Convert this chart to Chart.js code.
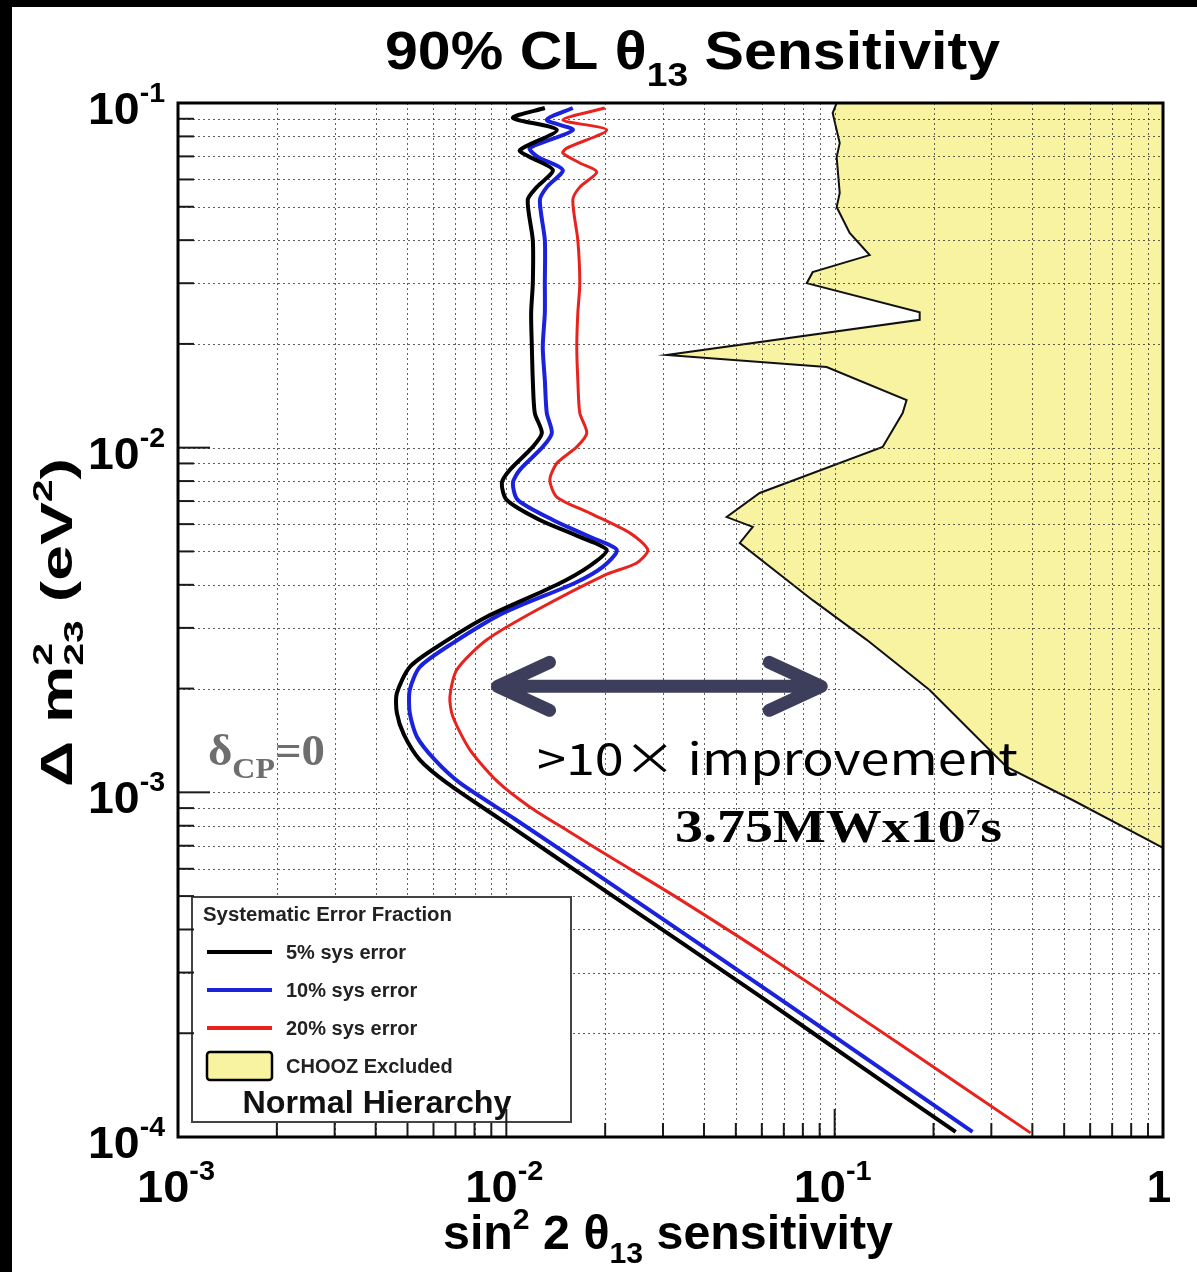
<!DOCTYPE html>
<html>
<head>
<meta charset="utf-8">
<title>90% CL theta13 Sensitivity</title>
<script src="https://cdn.jsdelivr.net/npm/chart.js@4.4.0/dist/chart.umd.min.js"></script>
<style>
  html, body { margin: 0; padding: 0; background: #fff; }
  #wrap { width: 1197px; height: 1272px; }
</style>
</head>
<body>
<div id="wrap"><canvas id="sensitivity" width="1197" height="1272"></canvas></div>
<script>
// 5% sys error (black)
const sin2Sys5 = [0.0131, 0.01047, 0.01425, 0.01099, 0.01179, 0.01386, 0.01238, 0.01162, 0.01204, 0.01204,
  0.0119, 0.01196, 0.01204, 0.01221, 0.01283, 0.01204, 0.01025, 0.00969, 0.01003, 0.01265,
  0.01674, 0.02022, 0.01796, 0.01425, 0.00872, 0.00614, 0.00508, 0.00464, 0.00464, 0.00488,
  0.00545, 0.00659, 0.00955, 0.01926, 0.0634, 0.1192, 0.2336];
const dm2Sys5 = [0.0967, 0.0905, 0.0835, 0.0730, 0.0697, 0.0639, 0.0570, 0.0523, 0.0400, 0.0300,
  0.0246, 0.0196, 0.0157, 0.0126, 0.01103, 0.01005, 0.00862, 0.00790, 0.00705, 0.00617,
  0.00551, 0.00505, 0.00454, 0.00400, 0.00323, 0.00264, 0.00231, 0.00194, 0.00170, 0.001467,
  0.001242, 0.001065, 0.000837, 0.000531, 0.000245, 0.000161, 0.0001035];

// 10% sys error (blue)
const sin2Sys10 = [0.01594, 0.01328, 0.01594, 0.01179, 0.01247, 0.01486, 0.01328, 0.01265, 0.01310, 0.01310,
  0.01310, 0.01291, 0.01310, 0.01328, 0.01376, 0.01291, 0.01099, 0.01047, 0.01084, 0.01386,
  0.01796, 0.02170, 0.01967, 0.01617, 0.00976, 0.00687, 0.00545, 0.00508, 0.00508, 0.00534,
  0.00606, 0.00722, 0.01061, 0.02154, 0.0709, 0.2630];
const dm2Sys10 = [0.0967, 0.0893, 0.0835, 0.0740, 0.0697, 0.0639, 0.0570, 0.0523, 0.0400, 0.0300,
  0.0246, 0.0196, 0.0157, 0.0126, 0.01103, 0.01005, 0.00862, 0.00790, 0.00705, 0.00617,
  0.00551, 0.00505, 0.00451, 0.00405, 0.00331, 0.00271, 0.00231, 0.00198, 0.00170, 0.00145,
  0.001242, 0.001065, 0.000837, 0.000531, 0.000245, 0.0001035];

// 20% sys error (red)
const sin2Sys20 = [0.01995, 0.01486, 0.02022, 0.01528, 0.01486, 0.01674, 0.01886, 0.01674, 0.01594, 0.01651,
  0.01674, 0.01651, 0.01639, 0.01651, 0.01674, 0.01758, 0.01639, 0.01425, 0.01357, 0.01425,
  0.01796, 0.02377, 0.02697, 0.02496, 0.01995, 0.01238, 0.00872, 0.00707, 0.00673, 0.00687,
  0.00774, 0.00935, 0.01179, 0.01561, 0.02067, 0.0321, 0.0634, 0.1577, 0.395];
const dm2Sys20 = [0.0967, 0.0893, 0.0835, 0.0740, 0.0716, 0.0670, 0.0631, 0.0570, 0.0523, 0.0400,
  0.0300, 0.0246, 0.0196, 0.0157, 0.0126, 0.01103, 0.01005, 0.00901, 0.00806, 0.00719,
  0.00646, 0.00566, 0.00505, 0.00463, 0.00427, 0.00338, 0.00277, 0.00227, 0.00189, 0.00166,
  0.00133, 0.001079, 0.000907, 0.000767, 0.000650, 0.000504, 0.000333, 0.000186, 0.0001028];

// CHOOZ excluded region (closed outline, filled)
const sin2Chooz = [0.1014, 0.0986, 0.1036, 0.1014, 0.1036, 0.1014, 0.1111, 0.1278, 0.0857, 0.0822,
  0.1815, 0.1815, 0.0308, 0.0945, 0.1656, 0.1611, 0.1400, 0.0591, 0.0469, 0.0563,
  0.0514, 0.0857, 0.1252, 0.1946, 0.334, 0.530, 1.0, 1.0];
const dm2Chooz = [0.1, 0.0935, 0.0765, 0.0697, 0.0548, 0.0499, 0.0420, 0.0362, 0.0323, 0.0300,
  0.0247, 0.0235, 0.01858, 0.01714, 0.01375, 0.0126, 0.01005, 0.00739, 0.00629, 0.00589,
  0.00529, 0.00361, 0.00277, 0.00198, 0.001185, 0.000950, 0.000690, 0.1];

const seriesLabels = ['5% sys error', '10% sys error', '20% sys error', 'CHOOZ Excluded'];
const xDecades = [-3, -2, -1, 0];
const yDecades = [-4, -3, -2, -1];
const xTickLabels = [['10', '-3'], ['10', '-2'], ['10', '-1'], ['1', '']];
const yTickLabels = [['10', '-4'], ['10', '-3'], ['10', '-2'], ['10', '-1']];

// arrow "> 10x improvement"
const arrowFrom = 0.0094;
const arrowTo = 0.091;
const arrowLevel = 0.00203;

const SANS = '"Liberation Sans", Arial, Helvetica, sans-serif';
const SERIF = '"Liberation Serif", "Times New Roman", serif';

function pts(xs, ys) {
    return xs.map((v, i) => ({ x: v, y: ys[i] }));
}

function runsWidth(ctx, runs) {
    let w = 0;
    for (const r of runs) {
        ctx.font = r.font;
        let rw = ctx.measureText(r.text).width;
        if (r.stack) rw = Math.max(rw, ctx.measureText(r.stack.text).width);
        w += rw;
    }
    return w;
}

// draws pieces of text (for super/subscripts), optionally squeezed to a given width
function drawRuns(ctx, runs, x, y, opt) {
    opt = opt || {};
    const natural = runsWidth(ctx, runs);
    const sx = opt.width ? opt.width / natural : 1;
    const w = natural * sx;
    let x0 = x;
    if (opt.align === 'center') x0 = x - w / 2;
    else if (opt.align === 'right') x0 = x - w;
    ctx.save();
    ctx.translate(x0, y);
    if (opt.rotate) ctx.rotate(opt.rotate);
    ctx.scale(sx, 1);
    ctx.textAlign = 'left';
    ctx.textBaseline = 'alphabetic';
    let cx = 0;
    for (const r of runs) {
        ctx.font = r.font;
        ctx.fillStyle = r.color || opt.color || '#000';
        ctx.fillText(r.text, cx, r.dy || 0);
        let rw = ctx.measureText(r.text).width;
        if (r.stack) {
            ctx.fillText(r.stack.text, cx, r.stack.dy);
            rw = Math.max(rw, ctx.measureText(r.stack.text).width);
        }
        cx += rw;
    }
    ctx.restore();
}

function decadeSteps(decades) {
    const out = [];
    for (let i = 0; i < decades.length - 1; i++) {
        for (let k = 1; k < 10; k++) out.push({ v: k * Math.pow(10, decades[i]), major: k === 1 });
    }
    out.push({ v: Math.pow(10, decades[decades.length - 1]), major: true });
    return out;
}

function drawGrid(chart) {
    const { ctx, chartArea: a, scales: { x, y } } = chart;
    ctx.save();
    ctx.beginPath();
    ctx.rect(a.left, a.top, a.right - a.left, a.bottom - a.top);
    ctx.clip();
    ctx.strokeStyle = 'rgba(55,55,55,0.8)';
    ctx.lineWidth = 1;
    ctx.setLineDash([2, 3]);
    for (const s of decadeSteps(xDecades)) {
        const px = Math.round(x.getPixelForValue(s.v)) + 0.5;
        ctx.beginPath(); ctx.moveTo(px, a.top); ctx.lineTo(px, a.bottom); ctx.stroke();
    }
    for (const s of decadeSteps(yDecades)) {
        const py = Math.round(y.getPixelForValue(s.v)) + 0.5;
        ctx.beginPath(); ctx.moveTo(a.left, py); ctx.lineTo(a.right, py); ctx.stroke();
    }
    ctx.restore();
}

function drawArrow(chart) {
    const { ctx, scales: { x, y } } = chart;
    const xl = x.getPixelForValue(arrowFrom);
    const xr = x.getPixelForValue(arrowTo);
    const yy = y.getPixelForValue(arrowLevel);
    ctx.save();
    ctx.strokeStyle = '#3c3e5c';
    ctx.lineWidth = 13;
    ctx.lineCap = 'round';
    ctx.lineJoin = 'round';
    ctx.beginPath();
    ctx.moveTo(xl + 4, yy); ctx.lineTo(xr - 4, yy);
    ctx.moveTo(xl + 52, yy - 24); ctx.lineTo(xl, yy); ctx.lineTo(xl + 52, yy + 24);
    ctx.moveTo(xr - 52, yy - 24); ctx.lineTo(xr, yy); ctx.lineTo(xr - 52, yy + 24);
    ctx.stroke();
    ctx.restore();
}

function drawLegend(chart) {
    const ctx = chart.ctx;
    const ds = chart.data.datasets;
    ctx.save();
    ctx.fillStyle = '#fff';
    ctx.fillRect(192, 897, 379, 225);
    ctx.strokeStyle = '#444';
    ctx.lineWidth = 2;
    ctx.strokeRect(192, 897, 379, 225);

    drawRuns(ctx, [{ text: 'Systematic Error Fraction', font: `bold 20px ${SANS}` }], 203, 921, { color: '#222', width: 249 });
    const rows = [952, 990, 1028];
    for (let i = 0; i < 3; i++) {
        ctx.strokeStyle = ds[i].borderColor;
        ctx.lineWidth = 4;
        ctx.beginPath(); ctx.moveTo(207, rows[i]); ctx.lineTo(272, rows[i]); ctx.stroke();
        drawRuns(ctx, [{ text: ds[i].label, font: `bold 20px ${SANS}` }], 286, rows[i] + 7, { color: '#222' });
    }
    ctx.fillStyle = ds[3].backgroundColor;
    ctx.beginPath();
    ctx.roundRect(207, 1052, 65, 28, 3);
    ctx.fill();
    ctx.strokeStyle = '#000';
    ctx.lineWidth = 2.5;
    ctx.stroke();
    drawRuns(ctx, [{ text: ds[3].label, font: `bold 20px ${SANS}` }], 286, 1073, { color: '#222' });
    drawRuns(ctx, [{ text: 'Normal Hierarchy', font: `bold 32px ${SANS}` }], 377, 1113, { align: 'center', color: '#111', width: 269 });
    ctx.restore();
}

function drawFrameAndTicks(chart) {
    const { ctx, chartArea: a, scales: { x, y } } = chart;
    ctx.save();
    ctx.strokeStyle = '#1a1a1a';
    ctx.lineWidth = 2;
    for (const s of decadeSteps(xDecades)) {
        const px = x.getPixelForValue(s.v);
        const len = s.major ? 28 : 14;
        ctx.beginPath(); ctx.moveTo(px, a.bottom); ctx.lineTo(px, a.bottom - len); ctx.stroke();
    }
    for (const s of decadeSteps(yDecades)) {
        const py = y.getPixelForValue(s.v);
        const len = s.major ? 32 : 16;
        ctx.beginPath(); ctx.moveTo(a.left, py); ctx.lineTo(a.left + len, py); ctx.stroke();
    }
    ctx.strokeStyle = '#000';
    ctx.lineWidth = 3;
    ctx.strokeRect(a.left, a.top, a.right - a.left, a.bottom - a.top);

    // tick labels
    xDecades.forEach((d, i) => {
        const px = x.getPixelForValue(Math.pow(10, d));
        const [base, exp] = xTickLabels[i];
        const runs = [{ text: base, font: `bold 44px ${SANS}` }];
        if (exp) runs.push({ text: exp, font: `bold 27px ${SANS}`, dy: -22 });
        drawRuns(ctx, runs, exp ? px - 2 : px - 4, a.bottom + 65, { align: 'center', width: exp ? 78 : undefined });
    });
    yDecades.forEach((d, i) => {
        const py = y.getPixelForValue(Math.pow(10, d));
        const [base, exp] = yTickLabels[i];
        drawRuns(ctx, [
            { text: base, font: `bold 44px ${SANS}` },
            { text: exp, font: `bold 27px ${SANS}`, dy: -22 }
        ], 165, py + 21, { align: 'right', width: 77 });
    });
    ctx.restore();
}

function drawTexts(chart) {
    const ctx = chart.ctx;
    // title
    drawRuns(ctx, [
        { text: '90% CL ', font: `bold 54px ${SANS}` },
        { text: 'θ', font: `bold 54px ${SANS}` },
        { text: '13', font: `bold 34px ${SANS}`, dy: 17 },
        { text: ' Sensitivity', font: `bold 54px ${SANS}` }
    ], 385, 69, { width: 615 });
    // x axis title
    drawRuns(ctx, [
        { text: 'sin', font: `bold 48px ${SANS}` },
        { text: '2', font: `bold 30px ${SANS}`, dy: -20 },
        { text: ' 2 θ', font: `bold 48px ${SANS}` },
        { text: '13', font: `bold 30px ${SANS}`, dy: 14 },
        { text: ' sensitivity', font: `bold 48px ${SANS}` }
    ], 443, 1249, { width: 450 });
    // y axis title, rotated
    drawRuns(ctx, [
        { text: 'Δ', font: `bold 44px ${SANS}` },
        { text: ' m', font: `bold 44px ${SANS}` },
        { text: '2', font: `bold 28px ${SANS}`, dy: -20, stack: { text: '23', dy: 11 } },
        { text: ' (eV', font: `bold 44px ${SANS}` },
        { text: '2', font: `bold 28px ${SANS}`, dy: -20 },
        { text: ')', font: `bold 44px ${SANS}` }
    ], 72, 787, { rotate: -Math.PI / 2, width: 329 });

    // delta_CP = 0
    drawRuns(ctx, [
        { text: 'δ', font: `bold 44px ${SERIF}` },
        { text: 'CP', font: `bold 30px ${SERIF}`, dy: 13 },
        { text: '=0', font: `bold 44px ${SERIF}` }
    ], 208, 765, { color: '#6e6e6e', width: 117 });

    drawRuns(ctx, [{ text: '>10× improvement', font: '44px "Noto Sans CJK JP", "Noto Sans", sans-serif' }],
        537, 775, { width: 481, color: '#000' });

    drawRuns(ctx, [
        { text: '3.75MWx10', font: `bold 46px ${SERIF}` },
        { text: '7', font: `bold 24px ${SERIF}`, dy: -17 },
        { text: 's', font: `bold 46px ${SERIF}` }
    ], 675, 842, { width: 327 });
}

const paperPlugin = {
    id: 'paper',
    beforeDraw(chart) {
        const ctx = chart.ctx;
        ctx.save();
        ctx.fillStyle = '#fff';
        ctx.fillRect(0, 0, chart.width, chart.height);
        ctx.fillStyle = '#000';
        ctx.fillRect(0, 0, chart.width, 7);
        ctx.fillRect(0, 0, 12, chart.height);
        ctx.restore();
    },
    afterDatasetDraw(chart, args) {
        // grid on top of the yellow region but below the curves
        if (args.index === 3) drawGrid(chart);
    },
    afterDraw(chart) {
        drawLegend(chart);
        drawFrameAndTicks(chart);
        drawArrow(chart);
        drawTexts(chart);
    }
};

const ctx = document.getElementById('sensitivity').getContext('2d');
new Chart(ctx, {
    type: 'scatter',
    data: {
        datasets: [{
            label: seriesLabels[0],
            data: pts(sin2Sys5, dm2Sys5),
            borderColor: '#000000',
            borderWidth: 4,
            showLine: true,
            pointRadius: 0,
            tension: 0.25,
            order: 1
        }, {
            label: seriesLabels[1],
            data: pts(sin2Sys10, dm2Sys10),
            borderColor: '#1b22dc',
            borderWidth: 4,
            showLine: true,
            pointRadius: 0,
            tension: 0.25,
            order: 2
        }, {
            label: seriesLabels[2],
            data: pts(sin2Sys20, dm2Sys20),
            borderColor: '#e8231e',
            borderWidth: 3,
            showLine: true,
            pointRadius: 0,
            tension: 0.25,
            order: 3
        }, {
            label: seriesLabels[3],
            data: pts(sin2Chooz, dm2Chooz),
            borderColor: '#111111',
            borderWidth: 2,
            backgroundColor: '#f8f3a0',
            fill: 'shape',
            showLine: true,
            pointRadius: 0,
            tension: 0,
            order: 4
        }]
    },
    options: {
        responsive: false,
        animation: false,
        layout: { padding: { left: 178, top: 103, right: 34, bottom: 135 } },
        plugins: {
            legend: { display: false },
            tooltip: { enabled: false },
            title: { display: false }
        },
        scales: {
            x: { type: 'logarithmic', min: 0.001, max: 1, display: false },
            y: { type: 'logarithmic', min: 0.0001, max: 0.1, display: false }
        }
    },
    plugins: [paperPlugin]
});
</script>
</body>
</html>
